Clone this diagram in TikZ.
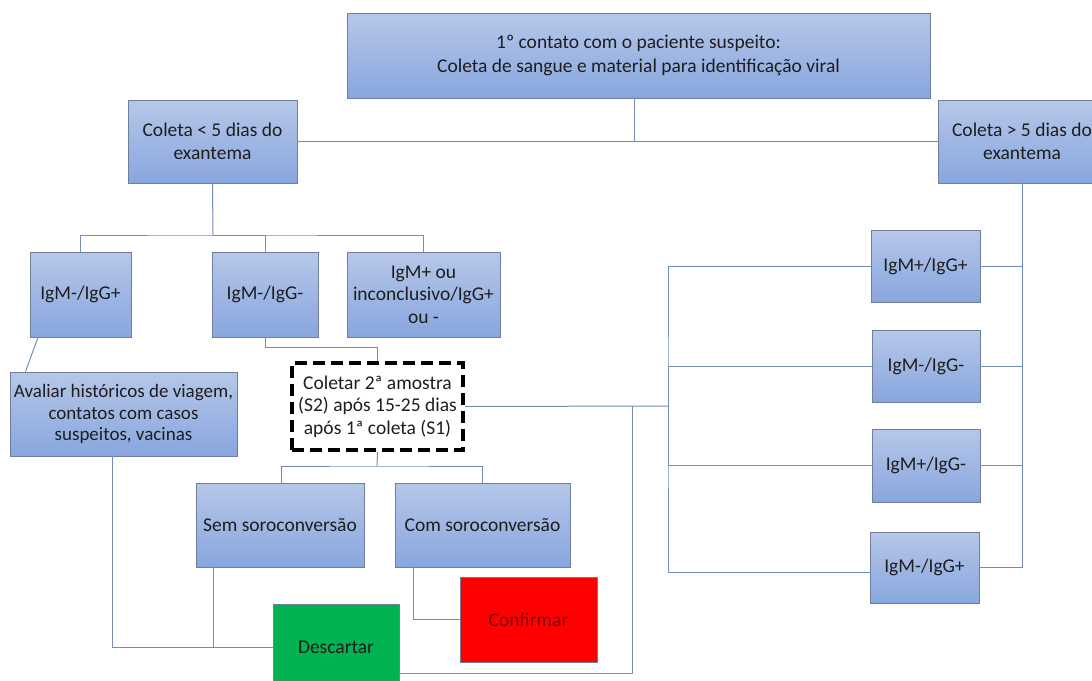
\documentclass[tikz,border=0pt]{standalone}
\usepackage{fontspec}
\setmainfont{Carlito}
\definecolor{boxtop}{RGB}{182,199,233}
\definecolor{boxbot}{RGB}{136,166,222}
\definecolor{boxedge}{RGB}{112,126,156}
\definecolor{linec}{RGB}{116,141,184}
\definecolor{txt}{RGB}{30,30,30}
\definecolor{greenbox}{RGB}{0,178,80}
\definecolor{redbox}{RGB}{255,0,0}
\definecolor{redtxt}{RGB}{120,0,0}
\begin{document}
\begin{tikzpicture}[x=1pt,y=-1pt,
  bluebox/.style={draw=boxedge, line width=0.9pt, top color=boxtop, bottom color=boxbot,
    text=txt, align=center, inner sep=0pt, font=\fontsize{19.5}{22.5}\selectfont},
  dashbox/.style={draw=black, line width=4pt, dash pattern=on 12pt off 6pt, fill=white,
    text=txt, align=center, inner sep=0pt, font=\fontsize{19.5}{22.5}\selectfont},
  greenb/.style={draw=boxedge, line width=0.6pt, fill=greenbox, text=txt,
    font=\fontsize{19.5}{22}\selectfont},
  redb/.style={draw=boxedge, line width=0.6pt, fill=redbox, text=redtxt,
    font=\fontsize{19.5}{22}\selectfont},
  conn/.style={draw=linec, line width=1pt}]
\useasboundingbox (0,0) rectangle (1092,680);
\clip (0,0) rectangle (1092,680);
\coordinate (hL) at (213,235);
\coordinate (hDash) at (378,347);
\coordinate (hSub) at (377,466);
\coordinate (vR) at (668,406);
\coordinate (vD) at (632,673);
\coordinate (vRight) at (1022,183);

% nodes
\node[bluebox, minimum width=583pt, minimum height=85pt, font=\fontsize{19.5}{24.5}\selectfont] (top) at (638.5,55.5)
  {1º contato com o paciente suspeito:\\Coleta de sangue e material para identificação viral};
\node[bluebox, minimum width=169pt, minimum height=83pt] (left) at (212.5,141.5)
  {Coleta < 5 dias do\\exantema};
\node[bluebox, minimum width=168pt, minimum height=83pt] (right) at (1022,141.5)
  {Coleta > 5 dias do\\exantema};
\node[bluebox, minimum width=101pt, minimum height=85pt] (b1) at (80.5,294.5) {IgM-/IgG+};
\node[bluebox, minimum width=106pt, minimum height=85pt] (b2) at (265,294.5) {IgM-/IgG-};
\node[bluebox, minimum width=153pt, minimum height=85pt] (b3) at (423.5,294.5)
  {IgM+ ou\\inconclusivo/IgG+\\ou -};
\node[bluebox, minimum width=227pt, minimum height=84pt, font=\fontsize{19}{21.5}\selectfont] (aval) at (123.5,414)
  {Avaliar históricos de viagem,\\contatos com casos\\suspeitos, vacinas};
\node[bluebox, minimum width=168pt, minimum height=84pt] (sem) at (280,525) {Sem soroconversão};
\node[bluebox, minimum width=175pt, minimum height=84pt] (com) at (482.5,525) {Com soroconversão};
\node[redb, minimum width=137pt, minimum height=85pt] (conf) at (528.5,619.5) {Confirmar};
\node[greenb, minimum width=126pt, minimum height=86pt] (desc) at (336,647) {Descartar};
\node[bluebox, minimum width=109pt, minimum height=72pt] (r1) at (925.5,266) {IgM+/IgG+};
\node[bluebox, minimum width=108pt, minimum height=72pt] (r2) at (926,366) {IgM-/IgG-};
\node[bluebox, minimum width=108pt, minimum height=73pt] (r3) at (926,465.5) {IgM+/IgG-};
\node[bluebox, minimum width=109pt, minimum height=71pt] (r4) at (924.5,567.5) {IgM-/IgG+};
\node[dashbox, minimum width=171pt, minimum height=87pt] (dashbox) at (377.5,406.5)
  {Coletar 2ª amostra\\(S2) após 15-25 dias\\após 1ª coleta (S1)};

\coordinate (r4w) at ([yshift=-4.5pt]r4.west);
\coordinate (topdrop) at ([xshift=-4.5pt]top.south);

% connectors
\draw[conn] (topdrop) -- (topdrop |- left.east);
\draw[conn] (left.east) -- (right.west);
\draw[conn] (left.south) -- (hL);
\draw[conn] (b1.north) |- (hL) -| (b3.north);
\draw[conn] (hL) -| (b2.north);
\draw[conn] (b2.south) -- (b2.south |- hDash) -| (dashbox.north);
\draw[conn] ([xshift=-42.5pt]b1.south) -- ([xshift=16pt]aval.north west);
\draw[conn] ([xshift=-11.5pt]aval.south) |- (desc.west);
\draw[conn] ([xshift=-67pt]sem.south) -- ([xshift=-67pt]sem.south |- desc.west);
\draw[conn] ([xshift=-69.5pt]com.south) |- (conf.west);
\draw[conn] ([yshift=-26pt]desc.east) -- (vD) -- (vD |- vR);
\draw[conn] (r1.west) -| (vR) |- (r4w);
\draw[conn] (vR) |- (r2.west);
\draw[conn] (vR) |- (r3.west);
\draw[conn] (vRight) |- (r4.east);
\draw[conn] (vRight) |- (r1.east);
\draw[conn] (vRight) |- (r2.east);
\draw[conn] (vRight) |- (r3.east);
\draw[conn] (dashbox.east) -- (vR);
\draw[conn] (dashbox.south) -- (hSub);
\draw[conn] ([xshift=1pt]sem.north) |- (hSub) -| (com.north);
\end{tikzpicture}
\end{document}
